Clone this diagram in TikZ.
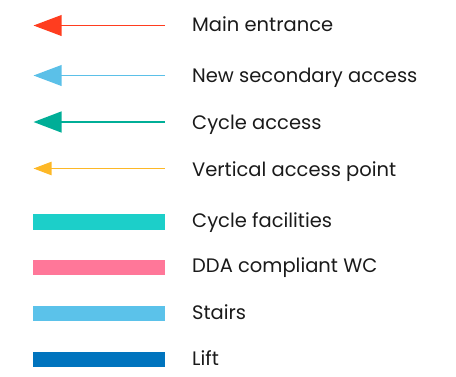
\documentclass[tikz,border=0pt]{standalone}
\usepackage{fontspec}
\setmainfont{Poppins}
\usetikzlibrary{arrows.meta}

\definecolor{mainred}{HTML}{FF3D1F}
\definecolor{secblue}{HTML}{5BC0E8}
\definecolor{cycteal}{HTML}{00AE97}
\definecolor{vertorange}{HTML}{FDB827}
\definecolor{cycfac}{HTML}{1CCFC9}
\definecolor{ddapink}{HTML}{FF7799}
\definecolor{stairblue}{HTML}{5BC2EA}
\definecolor{liftblue}{HTML}{0074BE}
\definecolor{labelgray}{HTML}{1A1A1A}

\tikzset{
  legendlabel/.style={anchor=base west, inner sep=0pt, text=labelgray,
    font=\fontsize{19.5}{22}\selectfont},
  bigarrow/.style={line width=1.4pt, -{Triangle[length=28pt,width=20.7pt,sep=0pt]}},
  smallarrow/.style={line width=1.3pt, -{Triangle[length=18pt,width=13.3pt,sep=0pt]}},
  swatch/.style={inner sep=0pt, minimum width=132pt, minimum height=15.7pt, anchor=north west}
}

\begin{document}
\begin{tikzpicture}[x=1pt,y=-1pt]
  \useasboundingbox (0,0) rectangle (456,376);

  % arrow symbols: start on the right, tip on the left
  \coordinate (a1s) at (165,25.5);   \coordinate (a1t) at (33.5,25.5);
  \coordinate (a2s) at (165,75.5);   \coordinate (a2t) at (33.5,75.5);
  \coordinate (a3s) at (165,122);    \coordinate (a3t) at (33.5,122);
  \coordinate (a4s) at (165,168.5);  \coordinate (a4t) at (33.5,168.5);

  \draw[bigarrow, mainred]  (a1s) -- (a1t);
  \draw[bigarrow, secblue]  (a2s) -- (a2t);
  \draw[bigarrow, cycteal, line width=2.2pt] (a3s) -- (a3t);
  \draw[smallarrow, vertorange] (a4s) -- (a4t);

  % colour swatches
  \node[swatch, fill=cycfac]    (s1) at (33,214) {};
  \node[swatch, fill=ddapink]   (s2) at (33,259.3) {};
  \node[swatch, fill=stairblue] (s3) at (33,305.3) {};
  \node[swatch, fill=liftblue]  (s4) at (33,351.3) {};

  % labels
  \node[legendlabel] (l1) at (192,31)    {Main entrance};
  \node[legendlabel] (l2) at (192,82)    {New secondary access};
  \node[legendlabel] (l3) at (192,129)   {Cycle access};
  \node[legendlabel] (l4) at (192,176.5) {Vertical access point};
  \node[legendlabel] (l5) at (192,227)   {Cycle facilities};
  \node[legendlabel] (l6) at (192,272.5) {DDA compliant WC};
  \node[legendlabel] (l7) at (192,319)   {Stairs};
  \node[legendlabel] (l8) at (192,365.7) {Lift};
\end{tikzpicture}
\end{document}
